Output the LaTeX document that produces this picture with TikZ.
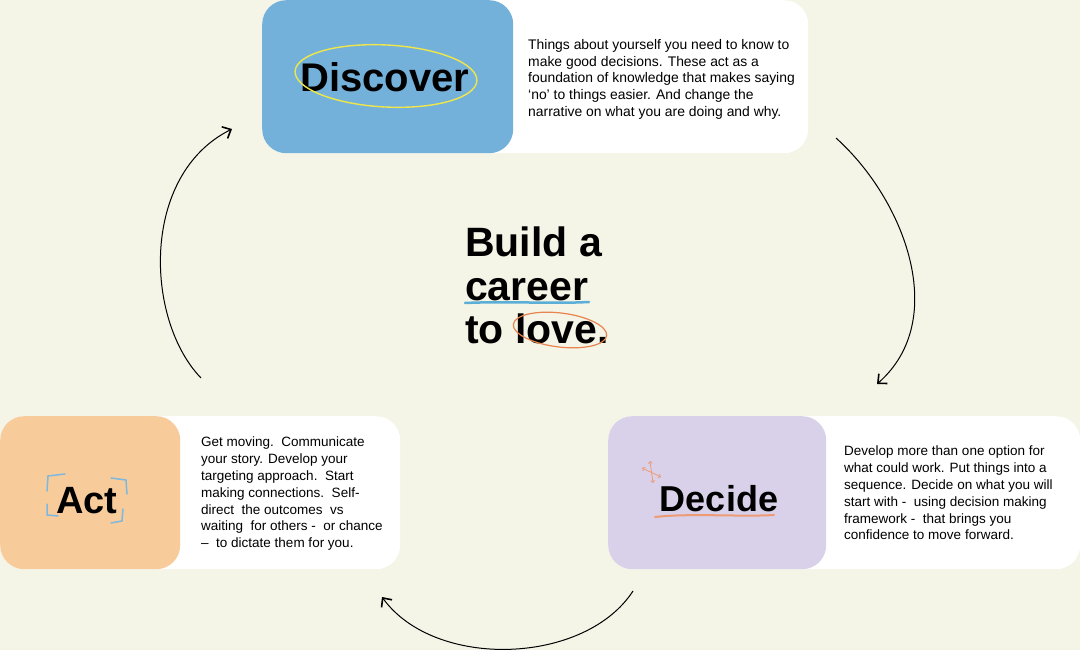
\documentclass[tikz,border=0pt]{standalone}
\usepackage{fontspec}
\setmainfont{Liberation Sans}
\usetikzlibrary{arrows.meta}
\definecolor{bg}{HTML}{F4F4E7}
\definecolor{discblue}{HTML}{74B1DA}
\definecolor{actorange}{HTML}{F8CB9B}
\definecolor{decpurple}{HTML}{D9D1E9}
\definecolor{hlyellow}{HTML}{EFE64A}
\definecolor{hlblue}{HTML}{5BAED6}
\definecolor{hlorange}{HTML}{E8844E}
\definecolor{actblue}{HTML}{7DB9DE}
\definecolor{decorange}{HTML}{EE9A74}
\tikzset{
  card/.style={fill=white, rounded corners=24pt, inner sep=0, anchor=north west},
  panel/.style={card},
  heading/.style={font=\fontsize{38}{38}\selectfont\bfseries, inner sep=0, anchor=base},
  para/.style={font=\fontsize{13.5}{16.8}\selectfont, align=left, inner sep=0, anchor=north west},
  titleline/.style={font=\fontsize{41}{42}\selectfont\bfseries, inner sep=0, anchor=base west},
  cycle/.style={line width=1pt, -{Straight Barb[length=7pt, width=13pt, line width=1.6pt]}},
}
\begin{document}
\begin{tikzpicture}[x=1pt,y=-1pt]
\fill[bg] (0,0) rectangle (1080,650);
\useasboundingbox (0,0) rectangle (1080,650);

% Discover
\node[card, minimum width=546, minimum height=153] (disccard) at (262,0) {};
\node[panel, fill=discblue, minimum width=251, minimum height=153] (discpanel) at (262,0) {};
\node[heading, font=\fontsize{40}{40}\selectfont\bfseries] (disc) at (385,92) {Discover};
\draw[hlyellow, line width=1.4pt, rotate around={-3:(386,76)}] (386,76) ellipse [x radius=91, y radius=31];
\node[para, font=\fontsize{13.9}{16.8}\selectfont] (disctext) at (528,39) {Things about yourself you need to know to\\make good decisions. These act as a\\foundation of knowledge that makes saying\\‘no’ to things easier. And change the\\narrative on what you are doing and why.};

% Act
\node[card, minimum width=400, minimum height=153] (actcard) at (0,416) {};
\node[panel, fill=actorange, minimum width=180, minimum height=153] (actpanel) at (0,416) {};
\node[heading] (act) at (87,513) {Act};
\draw[actblue, line width=1.5pt, line cap=round, line join=round]
  (47,491) -- (48,476) -- (65,474)
  (111,478) -- (126,480) -- (127,494)
  (123,509) -- (122,521) -- (111,523)
  (47,504) -- (47,515) -- (58,516);
\node[para] (acttext) at (201,437) {Get moving.\ \ Communicate\\your story. Develop your\\targeting approach.\ \ Start\\making connections.\ \ Self-\\direct\ \ the outcomes\ \ vs\\waiting\ \ for others -\ \ or chance\\–\ \ to dictate them for you.};

% Decide
\node[card, minimum width=472, minimum height=153] (deccard) at (608,416) {};
\node[panel, fill=decpurple, minimum width=218, minimum height=153] (decpanel) at (608,416) {};
\draw[decorange, line width=2pt, line cap=round] (655,517) .. controls (690,513) and (740,517) .. (774,515);
\node[heading, font=\fontsize{36}{36}\selectfont\bfseries] (dec) at (719,511) {Decide};
\draw[decorange, line width=0.8pt, {Straight Barb[length=2pt,width=4pt]}-{Straight Barb[length=2pt,width=4pt]}] (642,468) -- (661,477);
\draw[decorange, line width=0.8pt, {Straight Barb[length=2pt,width=4pt]}-{Straight Barb[length=2pt,width=4pt]}] (650,461) -- (653,483);
\node[para] (dectext) at (844,446) {Develop more than one option for\\what could work. Put things into a\\sequence. Decide on what you will\\start with -\ \ using decision making\\framework -\ \ that brings you\\confidence to move forward.};

% Title
\node[titleline] (t1) at (465,257) {Build a};
\node[titleline] (t2) at (465,300) {career};
\node[titleline] (t3) at (465,343) {to love.};
\draw[hlblue, line width=2.5pt, line cap=round] (465,303) .. controls (510,301) and (550,304) .. (589,302);
\draw[hlorange, line width=1.2pt, rotate around={-7:(560,330)}] (560,330) ellipse [x radius=47, y radius=17];

% Cycle arrows
\coordinate (a1s) at (836,138);
\coordinate (a1e) at (877,384);
\coordinate (a2s) at (633,591);
\coordinate (a2e) at (382,597);
\coordinate (a3s) at (201,378);
\coordinate (a3e) at (232,129);
\draw[cycle] (a1s) .. controls (905,200) and (950,320) .. (a1e);
\draw[cycle] (a2s) .. controls (585,665) and (435,670) .. (a2e);
\draw[cycle] (a3s) .. controls (145,320) and (140,175) .. (a3e);
\end{tikzpicture}
\end{document}
